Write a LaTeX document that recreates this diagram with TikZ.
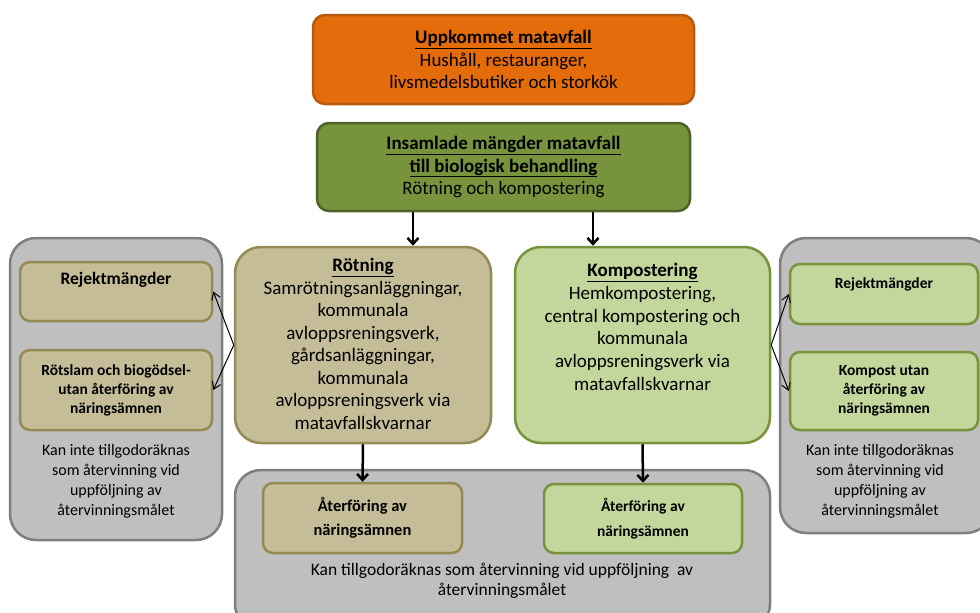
\documentclass[tikz,border=0pt]{standalone}
\usepackage{fontspec}
\setmainfont{Carlito}
\usetikzlibrary{arrows.meta,positioning}

\definecolor{orangefill}{HTML}{E46C0A}
\definecolor{orangeline}{HTML}{B65A0E}
\definecolor{darkgreen}{HTML}{77933C}
\definecolor{darkgreenline}{HTML}{4F6228}
\definecolor{tanfill}{HTML}{C4BD97}
\definecolor{tanline}{HTML}{948A54}
\definecolor{lightgreen}{HTML}{C3D69B}
\definecolor{lightgreenline}{HTML}{77933C}
\definecolor{greyfill}{HTML}{BFBFBF}
\definecolor{greyline}{HTML}{7F7F7F}

\tikzset{
  box/.style={draw,line width=2.5pt,rounded corners=12pt,inner sep=0pt,
    align=center,font=\fontsize{19}{22.5}\selectfont},
  greybox/.style={box,fill=greyfill,draw=greyline,rounded corners=26pt},
  smallbox/.style={box,rounded corners=10pt,font=\bfseries\fontsize{16}{20}\selectfont},
  txt/.style={align=center,inner sep=0pt,font=\fontsize{16}{20}\selectfont},
  flow/.style={line width=2.5pt,-{Straight Barb[length=6pt,width=11pt]}},
  side/.style={line width=1pt,-{Straight Barb[length=7pt,width=9pt]}}
}

\begin{document}
\begin{tikzpicture}[x=1pt,y=-1pt]
  \useasboundingbox (0,0) rectangle (980,613);
  \clip (0,0) rectangle (980,613);

  % grey frames
  \node[greybox,minimum width=212pt,minimum height=302pt] (greyL) at (116,389) {};
  \node[greybox,minimum width=212pt,minimum height=295pt] (greyR) at (886,385.5) {};
  \node[greybox,minimum width=535pt,minimum height=160pt] (greyB) at (502.5,550) {};

  % top
  \node[box,fill=orangefill,draw=orangeline,minimum width=381pt,minimum height=89pt]
    (uppk) at (503.5,59.5)
    {\textbf{\underline{Uppkommet matavfall}}\\Hushåll, restauranger,\\livsmedelsbutiker och storkök};
  \node[box,fill=darkgreen,draw=darkgreenline,minimum width=373pt,minimum height=88pt]
    (insam) at (503.5,167)
    {\textbf{\underline{Insamlade mängder matavfall}}\\\textbf{\underline{till biologisk behandling}}\\Rötning och kompostering};

  % treatment
  \node[box,fill=tanfill,draw=tanline,rounded corners=26pt,minimum width=256pt,minimum height=196pt]
    (rot) at (363,345) {};
  \node[txt,anchor=north,font=\fontsize{19}{22.5}\selectfont] (rottxt) at (363,258)
    {\textbf{\underline{Rötning}}\\Samrötningsanläggningar,\\kommunala\\avloppsreningsverk,\\gårdsanläggningar,\\kommunala\\avloppsreningsverk via\\matavfallskvarnar};
  \node[box,fill=lightgreen,draw=lightgreenline,rounded corners=26pt,minimum width=255pt,minimum height=196pt]
    (komp) at (642.5,345) {};
  \node[txt,anchor=north,font=\fontsize{19}{22.8}\selectfont] (komptxt) at (642.5,263)
    {\textbf{\underline{Kompostering}}\\Hemkompostering,\\central kompostering och\\kommunala\\avloppsreningsverk via\\matavfallskvarnar};

  % left side
  \node[smallbox,fill=tanfill,draw=tanline,minimum width=192pt,minimum height=59pt] (rejL) at (116,291.5) {};
  \node[txt,font=\bfseries\fontsize{17.5}{20}\selectfont] (rejLtxt) at (116,280) {Rejektmängder};
  \node[smallbox,fill=tanfill,draw=tanline,minimum width=192pt,minimum height=80pt,
    font=\bfseries\fontsize{15.5}{19}\selectfont] (slamL) at (116,390)
    {Rötslam och biogödsel-\\utan återföring av\\näringsämnen};
  \node[txt] (capL) at (116,481)
    {Kan inte tillgodoräknas\\som återvinning vid\\uppföljning av\\återvinningsmålet};

  % right side
  \node[smallbox,fill=lightgreen,draw=lightgreenline,minimum width=188pt,minimum height=60pt] (rejR) at (884,294) {};
  \node[txt,font=\bfseries\fontsize{15.5}{19}\selectfont] (rejRtxt) at (884,284) {Rejektmängder};
  \node[smallbox,fill=lightgreen,draw=lightgreenline,minimum width=188pt,minimum height=78pt,
    font=\bfseries\fontsize{15.5}{19}\selectfont] (kompR) at (884,391)
    {Kompost utan\\återföring av\\näringsämnen};
  \node[txt] (capR) at (880,481)
    {Kan inte tillgodoräknas\\som återvinning vid\\uppföljning av\\återvinningsmålet};

  % bottom
  \node[smallbox,fill=tanfill,draw=tanline,minimum width=199pt,minimum height=70pt,
    font=\bfseries\fontsize{16.5}{24}\selectfont] (aterL) at (362.5,518)
    {Återföring av\\näringsämnen};
  \node[smallbox,fill=lightgreen,draw=lightgreenline,minimum width=198pt,minimum height=69pt,
    font=\bfseries\fontsize{15.5}{25}\selectfont] (aterR) at (643,518.5)
    {Återföring av\\näringsämnen};
  \node[txt,font=\fontsize{17.5}{20}\selectfont] (capB) at (502,581)
    {Kan tillgodoräknas som återvinning vid uppföljning\ \ av\\återvinningsmålet};

  % connectors
  \draw[flow] ([xshift=-90.5pt]insam.south) -- ([xshift=-90.5pt]insam.south |- rot.north);
  \draw[flow] ([xshift=89.5pt]insam.south) -- ([xshift=89.5pt]insam.south |- komp.north);
  \draw[flow] (rot.south) -- (aterL.north);
  \draw[flow] (komp.south) -- (aterR.north);
  \draw[side] (rot.west) -- (rejL.east);
  \draw[side] (rot.west) -- (slamL.east);
  \draw[side] (komp.east) -- (rejR.west);
  \draw[side] (komp.east) -- (kompR.west);
\end{tikzpicture}
\end{document}
